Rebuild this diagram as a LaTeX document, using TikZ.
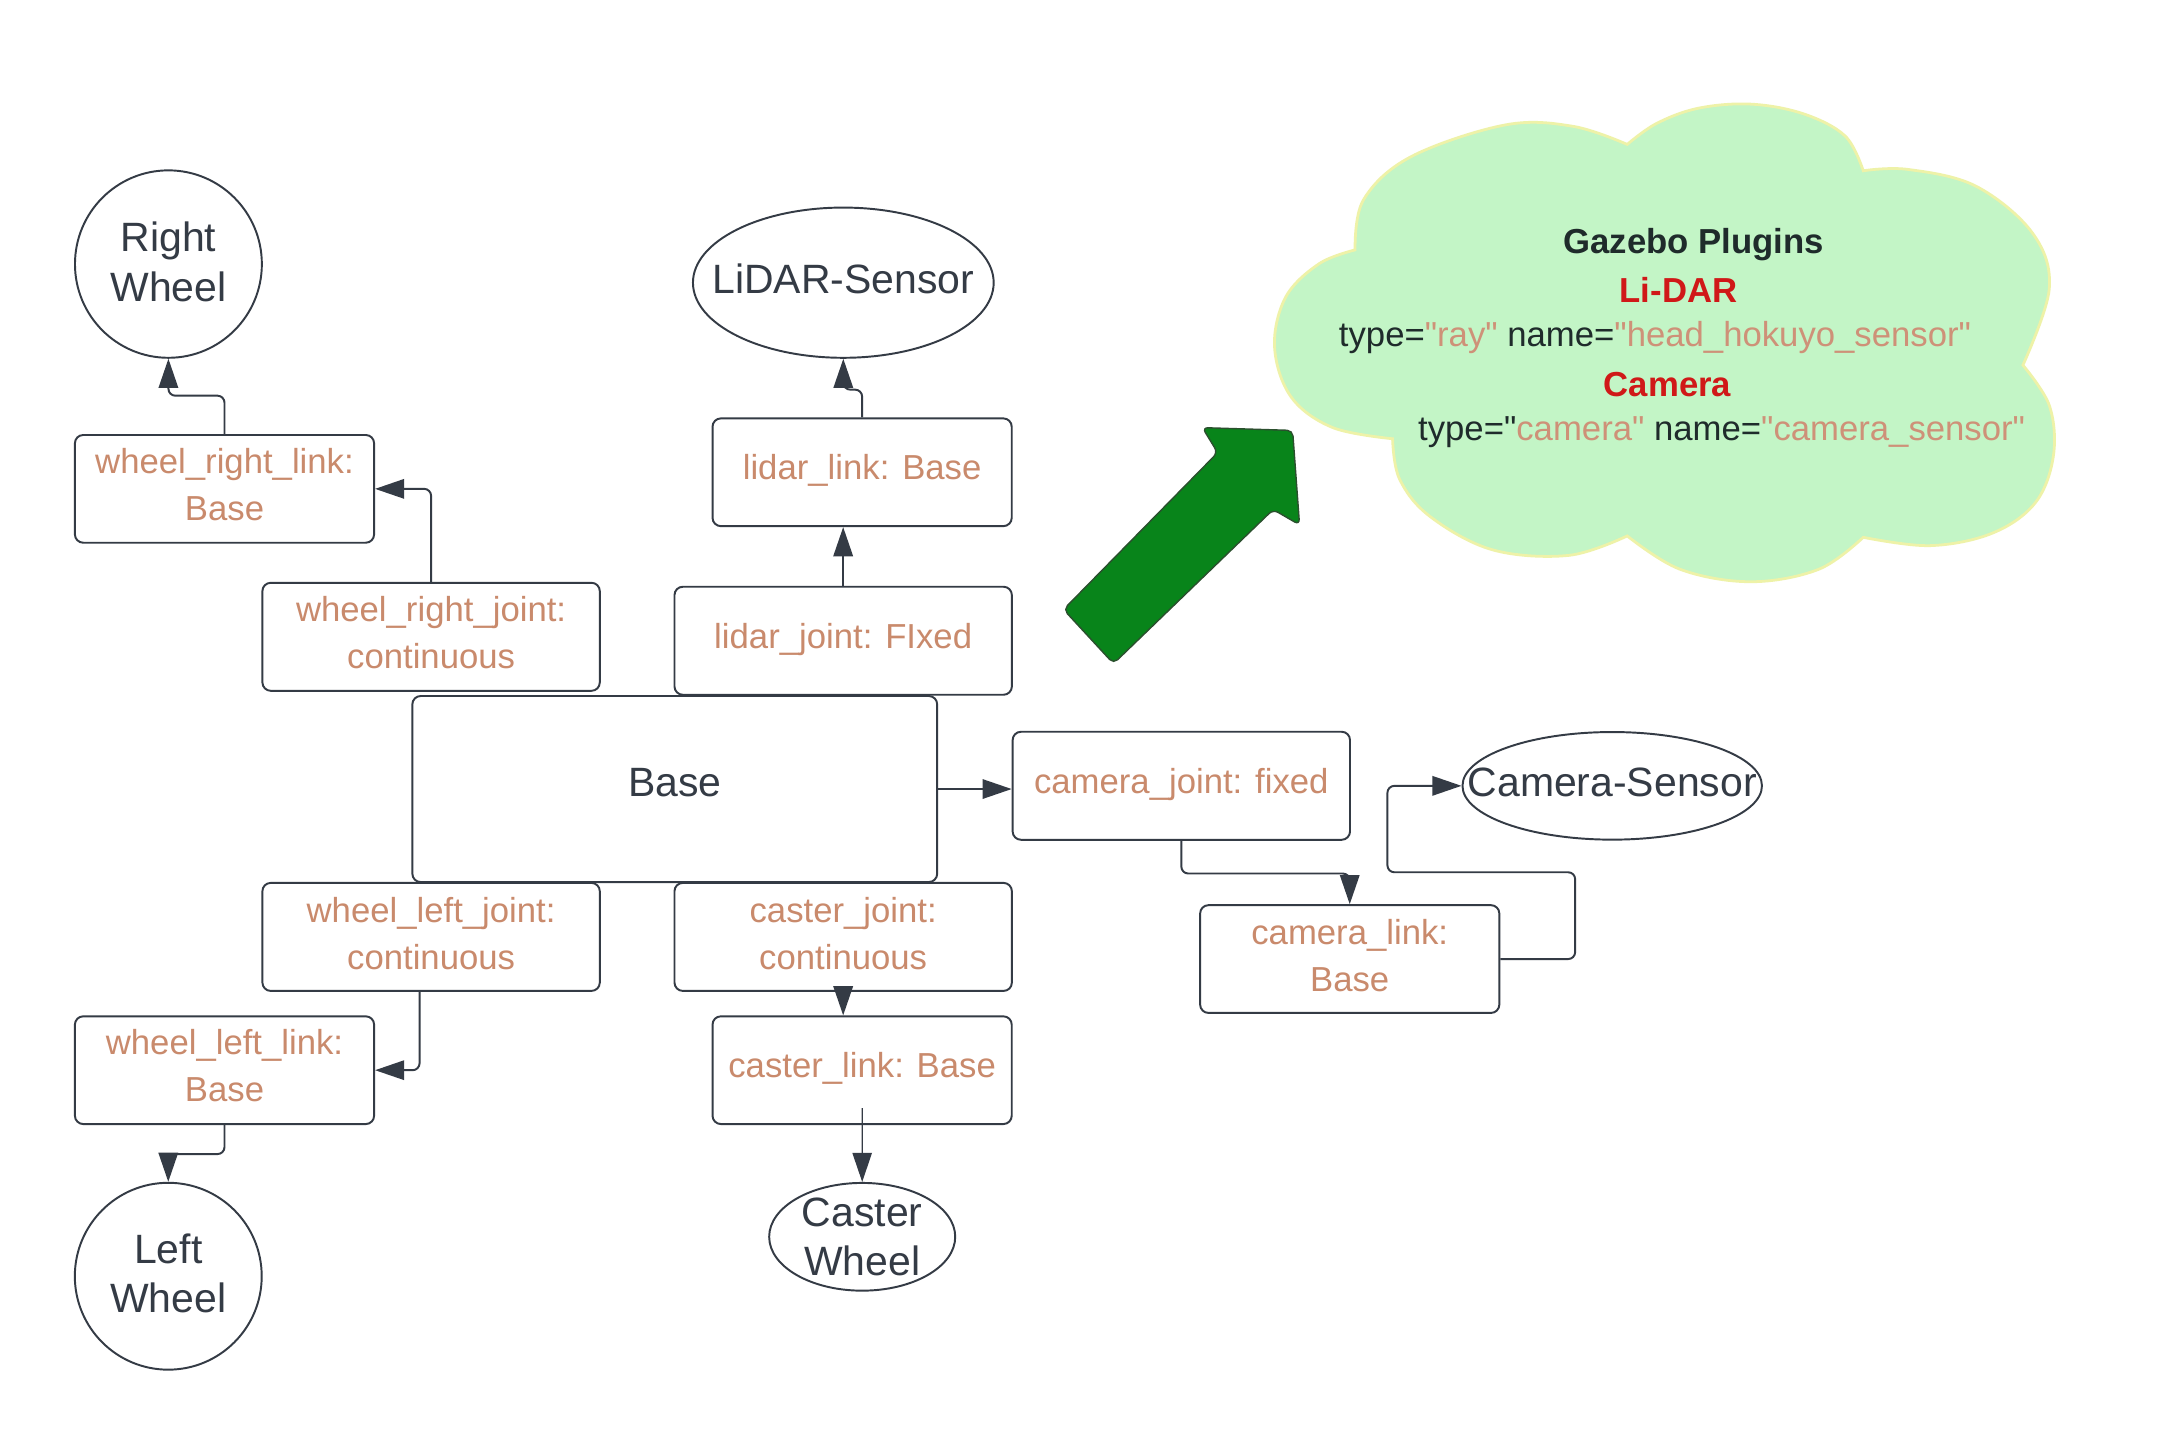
\documentclass[tikz,border=0pt]{standalone}
\usepackage{fontspec}
\setmainfont{Liberation Sans}[Ligatures=TeXOff]
\usetikzlibrary{arrows.meta,shapes.geometric,calc}
\definecolor{ink}{HTML}{343B45}
\definecolor{sal}{HTML}{C98A6C}
\definecolor{csal}{HTML}{CE9178}
\definecolor{cdark}{HTML}{1F2B2B}
\definecolor{cred}{HTML}{D01818}
\definecolor{cloudfill}{HTML}{C3F5C6}
\definecolor{cloudline}{HTML}{EEF2A8}
\definecolor{garrow}{HTML}{08841A}
\definecolor{garrowline}{HTML}{2B4F2E}
\begin{document}
\begin{tikzpicture}[x=1pt,y=1pt,
  nbox/.style={draw=ink,line width=1.4pt,rounded corners=6pt,inner sep=0pt,minimum width=215.5pt,minimum height=77.6pt},
  wbox/.style={draw=ink,line width=1.4pt,rounded corners=6pt,inner sep=0pt,minimum width=243pt,minimum height=77.8pt},
  oval/.style={ellipse,draw=ink,line width=1.4pt,inner sep=0pt},
  jt/.style={text=sal,font=\fontsize{25}{34}\selectfont,align=center,inner sep=0pt},
  dt/.style={text=ink,font=\fontsize{29.5}{35.5}\selectfont,align=center,inner sep=0pt},
  ct/.style={font=\fontsize{25}{30}\selectfont,inner sep=0pt},
  conn/.style={draw=ink,line width=1.4pt,rounded corners=5pt,-{Triangle[length=21pt,width=14pt]}},
  thinconn/.style={draw=ink,line width=0.9pt,-{Triangle[length=21pt,width=14pt]}}
]
\useasboundingbox (0,0) rectangle (1568,-1042);
\fill[white] (0,0) rectangle (1568,-1042);

% cloud
\filldraw[fill=cloudfill,draw=cloudline,line width=2pt]
  plot[smooth,tension=0.6] coordinates {(976,-180) (982,-144) (1016,-113) (1084,-90) (1133,-91) (1172,-104)}
  -- plot[smooth,tension=0.6] coordinates {(1172,-104) (1193,-89) (1223,-78) (1261,-75) (1299,-82) (1329,-98) (1342,-123)}
  -- plot[smooth,tension=0.6] coordinates {(1342,-123) (1374,-122) (1423,-134) (1464,-168) (1476,-208) (1457,-263)}
  -- plot[smooth,tension=0.6] coordinates {(1457,-263) (1476,-292) (1479,-328) (1466,-362) (1435,-384) (1390,-393) (1342,-387)}
  -- plot[smooth,tension=0.6] coordinates {(1342,-387) (1310,-410) (1261,-419) (1210,-410) (1172,-386)}
  -- plot[smooth,tension=0.6] coordinates {(1172,-386) (1130,-400) (1075,-396) (1030,-372) (1008,-345) (1003,-316)}
  -- plot[smooth,tension=0.6] coordinates {(1003,-316) (960,-308) (930,-286) (918,-250) (926,-214) (950,-190) (976,-180)}
  -- cycle;
\node[ct,text=cdark,font=\fontsize{25}{30}\selectfont\bfseries] (gp) at (1220,-176) {Gazebo Plugins};
\node[ct,text=cred,font=\fontsize{25}{30}\selectfont\bfseries] (gl) at (1209,-209) {Li-DAR};
\node[ct] (g3) at (1192,-242.8) {\textcolor{cdark}{type=}\textcolor{csal}{"ray"} \textcolor{cdark}{name=}\textcolor{csal}{"head\_hokuyo\_sensor"}};
\node[ct,text=cred,font=\fontsize{25}{30}\selectfont\bfseries] (gc) at (1201,-277) {Camera};
\node[ct] (g5) at (1240,-310.9) {\textcolor{cdark}{type="}\textcolor{csal}{camera"} \textcolor{cdark}{name=}\textcolor{csal}{"camera\_sensor"}};

% green block arrow
\filldraw[fill=garrow,draw=garrowline,line width=1pt,rounded corners=4pt]
  (766,-439) -- (877,-326) -- (866,-308) -- (931,-310) -- (936,-378) -- (917,-367) -- (802,-478) -- cycle;

% ellipses
\node[oval,minimum width=134.6pt,minimum height=135pt] (rw) at (121.3,-190.2) {};
\node[oval,minimum width=216.6pt,minimum height=108.2pt] (lidar) at (607.4,-203.6) {};
\node[oval,minimum width=134.6pt,minimum height=134.6pt] (lw) at (121.2,-919.2) {};
\node[oval,minimum width=134pt,minimum height=77.6pt] (caster) at (621,-890.8) {};
\node[oval,minimum width=215.7pt,minimum height=77.5pt] (cams) at (1161.2,-566) {};
\node[dt] (trw) at (121.3,-188.5) {Right\\Wheel};
\node[dt] (tlidar) at (607.4,-200.6) {LiDAR-Sensor};
\node[dt] (tlw) at (121.2,-917) {Left\\Wheel};
\node[dt] (tcaster) at (621,-890.7) {Caster\\Wheel};
\node[dt] (tcams) at (1161.2,-563.4) {Camera-Sensor};

% boxes
\node[nbox] (wrl) at (161.7,-352.1) {};
\node[wbox] (wrj) at (310.5,-458.65) {};
\node[nbox] (ll) at (620.95,-340.15) {};
\node[wbox] (lj) at (607.3,-461.5) {};
\node[draw=ink,line width=1.4pt,rounded corners=6pt,inner sep=0pt,minimum width=378pt,minimum height=134pt] (base) at (486,-568.3) {};
\node[wbox] (cj) at (850.85,-565.95) {};
\node[nbox] (cl) at (972.15,-690.75) {};
\node[wbox] (wlj) at (310.5,-674.8) {};
\node[wbox] (csj) at (607.3,-674.8) {};
\node[nbox] (wll) at (161.7,-770.8) {};
\node[nbox] (csl) at (620.95,-770.8) {};

\node[jt] (twrl) at ($(wrl.center)+(0,3)$) {wheel\_right\_link:\\Base};
\node[jt] (twrj) at ($(wrj.center)+(0,3)$) {wheel\_right\_joint:\\continuous};
\node[jt] (tll) at ($(ll.center)+(0,1.5)$) {lidar\_link: Base};
\node[jt] (tlj) at ($(lj.center)+(0,1)$) {lidar\_joint: FIxed};
\node[dt] (tbase) at ($(base.center)+(0,4.5)$) {Base};
\node[jt] (tcj) at ($(cj.center)+(0,1.2)$) {camera\_joint: fixed};
\node[jt] (tcl) at ($(cl.center)+(0,2.5)$) {camera\_link:\\Base};
\node[jt] (twlj) at ($(wlj.center)+(0,2.6)$) {wheel\_left\_joint:\\continuous};
\node[jt] (tcsj) at ($(csj.center)+(0,2.6)$) {caster\_joint:\\continuous};
\node[jt] (twll) at ($(wll.center)+(0,3.3)$) {wheel\_left\_link:\\Base};
\node[jt] (tcsl) at ($(csl.center)+(0,1.5)$) {caster\_link: Base};

% connectors
\draw[conn] (wrl.north) -- ++(0,27.6) -| (rw.south);
\draw[conn] (wrj.north) |- (wrl.east);
\draw[conn] (ll.north) -- ++(0,20) -| (lidar.south);
\draw[conn] (lj.north) -- (lj.north |- ll.south);
\draw[conn] (base.east) -- (base.east -| cj.west);
\draw[conn] (cj.south) -- ++(0,-23.6) -| (cl.north);
\draw[conn] (cl.east) -- ++(53.9,0) -- ++(0,62.5) -- ++(-135.2,0) |- (cams.west);
\draw[conn] ([xshift=-8.3pt]wlj.south) |- (wll.east);
\draw[conn] (csj.south) -- (csj.south |- csl.north);
\draw[thinconn] ([yshift=12.2pt]csl.south) -- (caster.north);
\draw[conn] (wll.south) -- ++(0,-20.9) -| (lw.north);
\end{tikzpicture}
\end{document}
